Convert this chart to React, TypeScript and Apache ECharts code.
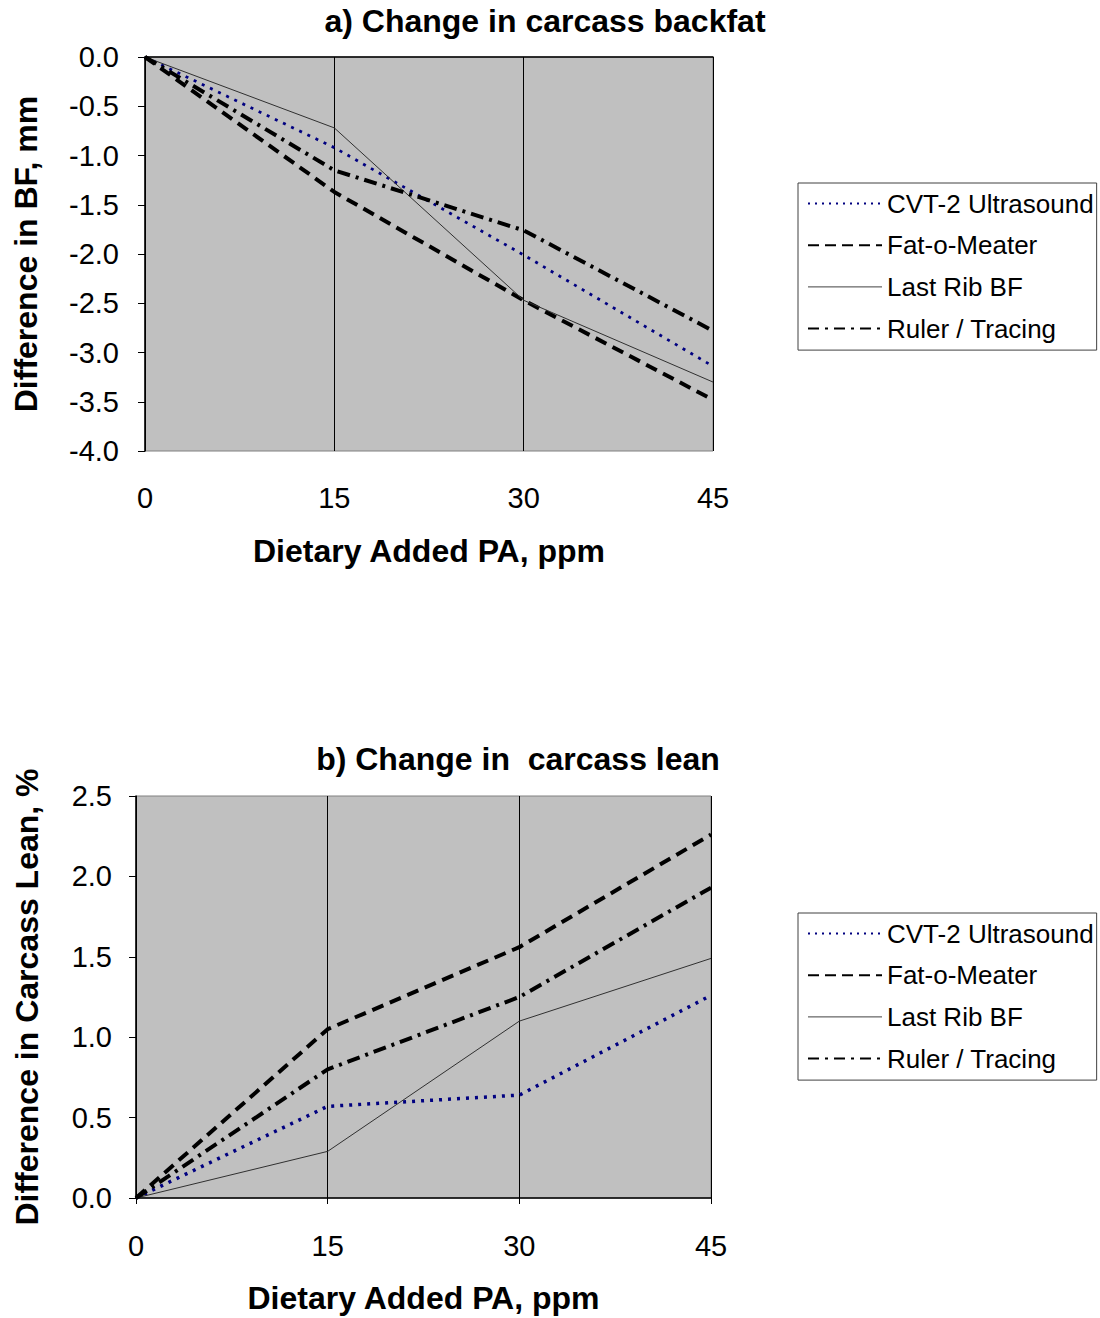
import React, { useEffect, useRef } from "react";
import * as echarts from "echarts";

const doses = [0, 15, 30, 45];
const seriesNames = ["CVT-2 Ultrasound", "Fat-o-Meater", "Last Rib BF", "Ruler / Tracing"];

// a) Change in carcass backfat, mm
const bfCvt = [0, -0.92, -2.01, -3.14];
const bfFat = [0, -1.37, -2.47, -3.48];
const bfRib = [0, -0.72, -2.47, -3.3];
const bfRuler = [0, -1.15, -1.76, -2.78];

// b) Change in carcass lean, %
const leanCvt = [0, 0.57, 0.64, 1.26];
const leanFat = [0, 1.05, 1.56, 2.26];
const leanRib = [0, 0.29, 1.1, 1.49];
const leanRuler = [0, 0.8, 1.25, 1.93];

const xTicks = [0, 15, 30, 45];

const FONT = "'Liberation Sans', Arial, sans-serif";

const styles = [
  { color: "#000080", width: 2.8, type: [3, 6] },
  { color: "#000000", width: 4, type: [12, 7] },
  { color: "#303030", width: 1, type: "solid" },
  { color: "#000000", width: 4, type: [13, 6, 3, 6] },
];
const legendStyles = [
  { color: "#000080", width: 2, type: [2, 5] },
  { color: "#000000", width: 2, type: [11, 6] },
  { color: "#404040", width: 1, type: "solid" },
  { color: "#000000", width: 2, type: [11, 6, 3, 6] },
];

function pairs(ys: number[]) {
  return doses.map((d, i) => [d, ys[i]]);
}

export default function App() {
  const ref = useRef<HTMLDivElement>(null);
  useEffect(() => {
    document.body.style.margin = "0";
    const chart = echarts.init(ref.current!, null, { renderer: "svg" });
    const dataA = [bfCvt, bfFat, bfRib, bfRuler];
    const dataB = [leanCvt, leanFat, leanRib, leanRuler];
    const mkSeries = (data: number[][], idx: number, thickDot: boolean) =>
      data.map((ys, i) => ({
        name: seriesNames[i],
        type: "line",
        xAxisIndex: idx,
        yAxisIndex: idx,
        data: pairs(ys),
        symbol: "none",
        lineStyle: {
          ...styles[i],
          width: i === 0 && thickDot ? 3.5 : styles[i].width,
        },
        itemStyle: { color: styles[i].color },
        z: 3,
      }));
    const xAxisBase = (gridIndex: number, margin: number) => ({
      type: "value",
      gridIndex,
      min: 0,
      max: 45,
      interval: 15,
      axisLine: { show: true, lineStyle: { color: "#000", width: 1.5 } },
      axisTick: { show: true, length: 6, lineStyle: { color: "#000" } },
      axisLabel: {
        margin,
        fontSize: 29,
        color: "#000",
        fontFamily: FONT,
        formatter: (v: number) => (xTicks.includes(v) ? String(v) : ""),
      },
      splitLine: { show: true, lineStyle: { color: "#000", width: 1 } },
      name: "Dietary Added PA, ppm",
      nameLocation: "middle",
      nameGap: 84,
      nameTextStyle: { fontSize: 32, fontWeight: "bold", color: "#000", fontFamily: FONT },
    });
    const yAxisBase = (gridIndex: number, min: number, max: number, name: string, margin: number, gap: number) => ({
      type: "value",
      gridIndex,
      min,
      max,
      interval: 0.5,
      axisLine: { show: true, lineStyle: { color: "#000", width: 1.5 } },
      axisTick: { show: true, length: 7, lineStyle: { color: "#000" } },
      axisLabel: {
        margin,
        fontSize: 29,
        color: "#000",
        fontFamily: FONT,
        formatter: (v: number) => v.toFixed(1),
      },
      splitLine: { show: false },
      name,
      nameLocation: "middle",
      nameGap: gap,
      nameTextStyle: { fontSize: 32, fontWeight: "bold", color: "#000", fontFamily: FONT },
    });
    const legendBase = (top: number) => ({
      orient: "vertical",
      left: 798,
      top,
      padding: [7, 3, 8, 9],
      itemWidth: 74,
      itemHeight: 14,
      itemGap: 14.7,
      backgroundColor: "#fff",
      borderColor: "#404040",
      borderWidth: 1,
      textStyle: { fontSize: 26, color: "#000", fontFamily: FONT, lineHeight: 27 },
      data: seriesNames.map((n, i) => ({ name: n, lineStyle: legendStyles[i], itemStyle: { opacity: 0 } })),
    });
    chart.setOption({
      animation: false,
      backgroundColor: "#fff",
      title: [
        {
          text: "a) Change in carcass backfat",
          left: 545,
          top: 5,
          textAlign: "center",
          padding: 0,
          textStyle: { fontSize: 32, fontWeight: "bold", color: "#000", fontFamily: FONT },
        },
        {
          text: "b) Change in  carcass lean",
          left: 518,
          top: 743,
          textAlign: "center",
          padding: 0,
          textStyle: { fontSize: 32, fontWeight: "bold", color: "#000", fontFamily: FONT },
        },
      ],
      grid: [
        { left: 145, top: 57, width: 568, height: 394, show: true, backgroundColor: "#c0c0c0", borderColor: "#808080", borderWidth: 1 },
        { left: 136, top: 796, width: 575, height: 402, show: true, backgroundColor: "#c0c0c0", borderColor: "#808080", borderWidth: 1 },
      ],
      xAxis: [xAxisBase(0, 32), xAxisBase(1, 33)],
      yAxis: [
        yAxisBase(0, -4, 0, "Difference in BF, mm", 26, 103),
        yAxisBase(1, 0, 2.5, "Difference in Carcass Lean, %", 24, 93),
      ],
      legend: [legendBase(183), legendBase(913)],
      series: [...mkSeries(dataA, 0, false), ...mkSeries(dataB, 1, true)],
    });
    return () => chart.dispose();
  }, []);
  return <div ref={ref} style={{ position: "absolute", left: 0, top: 0, width: 1100, height: 1318 }} />;
}
